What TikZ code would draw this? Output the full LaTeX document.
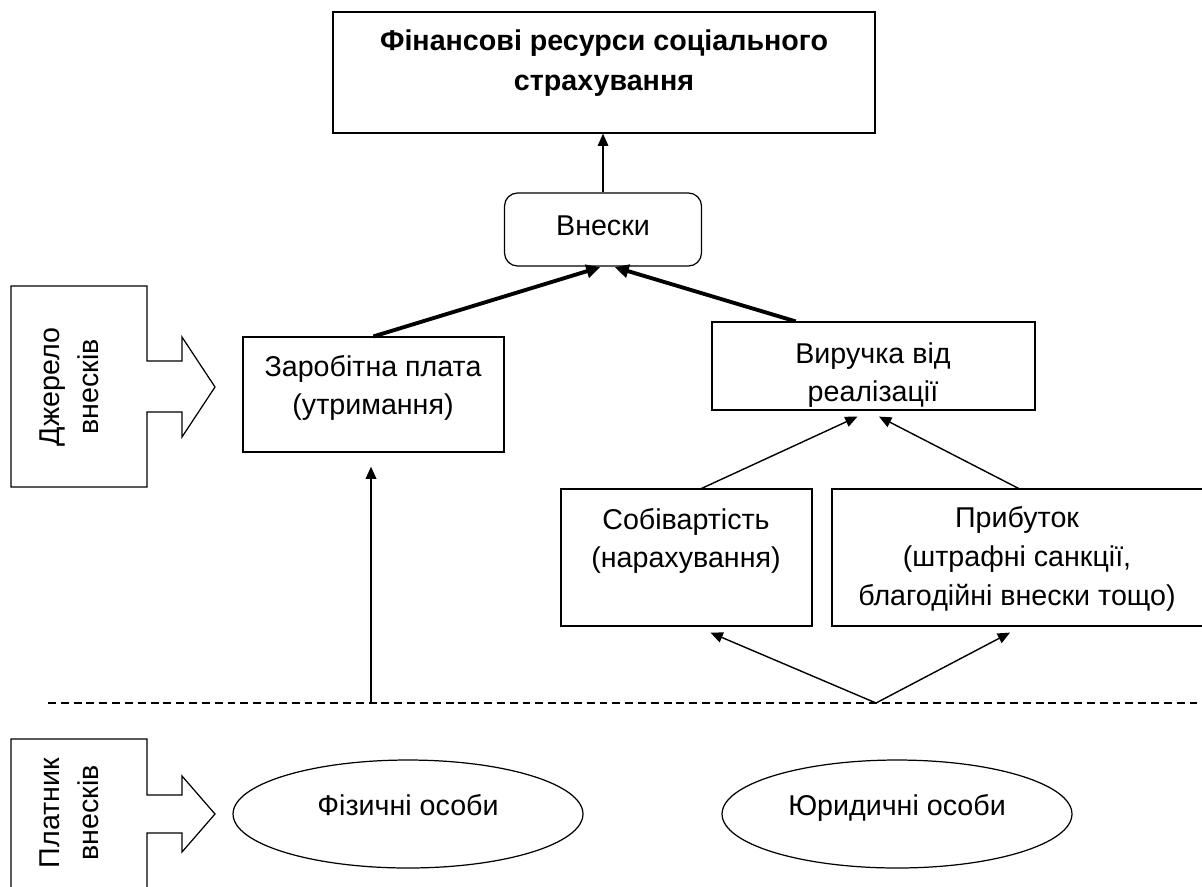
\documentclass[tikz,border=0pt]{standalone}
\usepackage{fontspec}
\setmainfont{Liberation Sans}
\usetikzlibrary{positioning}
\usetikzlibrary{shapes.geometric}
\usetikzlibrary{arrows.meta}
\usetikzlibrary{calc}

\begin{document}
\begin{tikzpicture}[x=0.02cm, y=-0.02cm,
  box/.style={draw=black, line width=0.7pt, inner sep=0pt},
  txt/.style={align=center, inner sep=0pt, font=\fontsize{16.3}{22}\selectfont},
  tip/.style={-{Triangle[length=7pt,width=6pt]}, line width=0.8pt},
  fat/.style={-{Triangle[length=8pt,width=7.5pt]}, line width=2.2pt}]
  \useasboundingbox (0,0) rectangle (1202,886);

  \node[box, minimum width=10.84cm, minimum height=2.42cm] (R) at (604, 72.5) {};
  \node[txt, font=\fontsize{16.3}{23}\selectfont\bfseries] (RL) at (604, 63) {Фінансові ресурси соціального\\страхування};

  \node[box, rounded corners=0.26cm, minimum width=3.94cm, minimum height=1.46cm] (V) at (603, 229.5) {};
  \node[txt] (VL) at (603, 226) {Внески};

  \node[box, minimum width=5.22cm, minimum height=2.3cm] (Z) at (373.5, 394.5) {};
  \node[txt] (ZL) at (373, 388) {Заробітна плата\\(утримання)};

  \node[box, minimum width=6.46cm, minimum height=1.76cm] (W) at (873.5, 366) {};
  \node[txt] (WL) at (873, 375) {Виручка від\\реалізації};

  \node[box, minimum width=5.02cm, minimum height=2.74cm] (S) at (686.5, 557.5) {};
  \node[txt] (SL) at (686, 541) {Собівартість\\(нарахування)};

  \node[box, minimum width=7.46cm, minimum height=2.74cm] (P) at (1018.5, 557.5) {};
  \node[txt] (PL) at (1017, 559) {Прибуток\\(штрафні санкції,\\благодійні внески тощо)};

  \node[box, ellipse, minimum width=7cm, minimum height=2.16cm] (E1) at (408, 814) {};
  \node[txt, anchor=base] (E1L) at (408, 815) {Фізичні особи};
  \node[box, ellipse, minimum width=7cm, minimum height=2.16cm] (E2) at (897, 814) {};
  \node[txt, anchor=base] (E2L) at (897, 815) {Юридичні особи};

  % blocks on the left
  \draw[line width=0.7pt] (11,286) -- (147,286) -- (147,361) -- (182,361) -- (182,337) -- (215,387)
    -- (182,437) -- (182,412) -- (147,412) -- (147,487) -- (11,487) -- cycle;
  \node[txt, rotate=90] (JL) at (69, 387) {Джерело\\внесків};
  \draw[line width=0.7pt] (11,739) -- (147,739) -- (147,795) -- (182,795) -- (182,776) -- (215,814)
    -- (182,852) -- (182,833) -- (147,833) -- (147,892) -- (11,892) -- cycle;
  \node[txt, rotate=90] (PLL) at (69, 813) {Платник\\внесків};

  % dashed border
  \coordinate (DL) at (48, 703);
  \coordinate (DR) at (1202, 703);
  \coordinate (C) at (371, 703);
  \coordinate (D) at (876, 703);
  \draw[line width=0.7pt, dash pattern=on 4.5pt off 2.8pt] (DL) -- (DR);

  % arrows
  \draw[tip] (V.north) -- (V.north |- R.south);
  \draw[fat, shorten >=1pt] (Z.north) -- ([xshift=-0.02cm]V.south);
  \draw[fat, shorten >=1pt] ($(W.north west)!0.26!(W.north east)$) -- ([xshift=0.2cm]V.south);
  \draw[tip] ($(S.north west)!0.56!(S.north east)$) -- ([xshift=-0.32cm, yshift=-0.12cm]W.south);
  \draw[tip] (P.north) -- ([xshift=0.11cm, yshift=-0.12cm]W.south);
  \draw[tip] (D) -- ([xshift=0.48cm, yshift=-0.12cm]S.south);
  \draw[tip] (D) -- ([xshift=-0.17cm, yshift=-0.12cm]P.south);
  \draw[tip, line width=1.1pt, shorten >=0.28cm] (C) -- (C |- Z.south);
\end{tikzpicture}
\end{document}
